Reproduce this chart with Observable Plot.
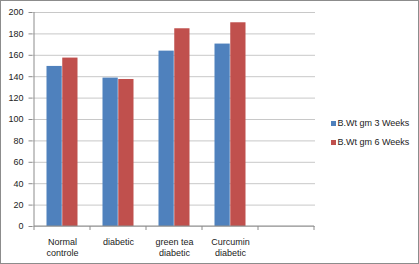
<!DOCTYPE html>
<html><head><meta charset="utf-8">
<script src="https://cdn.jsdelivr.net/npm/d3@7"></script>
<script src="https://cdn.jsdelivr.net/npm/@observablehq/plot@0.6"></script>
<style>
body{margin:0;background:#fff;}
#wrap{position:relative;width:417px;height:262px;border:1px solid #8c8c8c;font-family:"Liberation Sans",Arial,sans-serif;overflow:hidden;}
#wrap svg{position:absolute;left:0;top:0;}
#legend{position:absolute;left:330px;top:115.5px;font-size:9px;color:#222;}
.row{position:relative;height:19.3px;line-height:13px;white-space:nowrap;}
.sw{display:inline-block;width:5px;height:5px;margin-right:1.5px;vertical-align:0px;}
</style></head>
<body><div id="wrap"><div id="legend"></div></div>
<script>
const categories = ["Normal controle", "diabetic", "green tea diabetic", "Curcumin diabetic", ""];
const tickLabels = ["Normal\ncontrole", "diabetic", "green tea\ndiabetic", "Curcumin\ndiabetic", ""];
const seriesNames = ["B.Wt gm 3 Weeks", "B.Wt gm 6 Weeks"];
const weeks3 = [149.6, 138.7, 163.9, 170.5];
const weeks6 = [157.4, 137.4, 184.8, 190.4];
const colors = ["#4F81BD", "#C0504D"];
const yTicks = [0, 20, 40, 60, 80, 100, 120, 140, 160, 180, 200];

const rows3 = weeks3.map((v, i) => ({cat: categories[i], v}));
const rows6 = weeks6.map((v, i) => ({cat: categories[i], v}));
const labelOf = new Map(categories.map((c, i) => [c, tickLabels[i]]));

function axisLines(index, scales, values, dim) {
  const x = scales.x, y = scales.y;
  const bw = typeof x.bandwidth === "function" ? x.bandwidth() : x.bandwidth;
  const y0 = y(0), yTop = y(200);
  const xs = categories.map(c => x(c));
  xs.push(xs[xs.length - 1] + bw);
  const g = d3.create("svg:g").attr("stroke", "#8c8c8c").attr("stroke-width", 1).attr("fill", "none");
  g.append("line").attr("x1", xs[0]).attr("x2", xs[0]).attr("y1", yTop).attr("y2", y0);
  g.append("line").attr("x1", xs[0]).attr("x2", xs[xs.length - 1]).attr("y1", y0).attr("y2", y0);
  for (const xv of xs) g.append("line").attr("x1", xv).attr("x2", xv).attr("y1", y0).attr("y2", y0 + 4);
  return g.node();
}

const chart = Plot.plot({
  width: 417,
  height: 262,
  marginLeft: 31.5,
  marginRight: 103,
  marginTop: 11,
  marginBottom: 37,
  style: {fontFamily: "'Liberation Sans', Arial, sans-serif", fontSize: "9px", color: "#222", background: "transparent"},
  x: {type: "band", domain: categories, padding: 0},
  y: {domain: [0, 200]},
  marks: [
    Plot.gridY(yTicks, {stroke: "#c8c8c8", strokeOpacity: 1}),
    Plot.barY(rows3, {x: "cat", y: "v", fill: colors[0], insetLeft: 12.5, insetRight: 28.25}),
    Plot.barY(rows6, {x: "cat", y: "v", fill: colors[1], insetLeft: 28.25, insetRight: 12.5}),
    Plot.axisY({ticks: yTicks, tickSize: 4, tickPadding: 5.5, stroke: "#8c8c8c", fill: "#222", label: null, fontSize: 9}),
    Plot.axisX({tickSize: 0, tickPadding: 10, tickFormat: d => labelOf.get(d), label: null, fontSize: 9, lineHeight: 1.25, fill: "#222"}),
    axisLines
  ]
});
document.getElementById("wrap").appendChild(chart);

const legend = d3.select("#legend");
seriesNames.forEach((s, i) => {
  const r = legend.append("div").attr("class", "row");
  r.append("span").attr("class", "sw").style("background", colors[i]);
  r.append("span").text(s);
});
</script>
</body></html>
